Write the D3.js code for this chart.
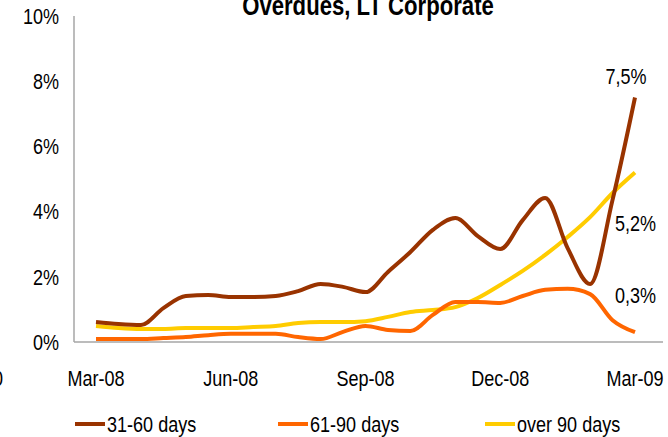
<!DOCTYPE html>
<html>
<head>
<meta charset="utf-8">
<script src="https://cdn.jsdelivr.net/npm/d3@7/dist/d3.min.js"></script>
<style>
    body { margin: 0; background: #fff; }
    svg text { font-family: "Liberation Sans", Arial, sans-serif; fill: #000; }
</style>
</head>
<body>
<svg id="chart" width="668" height="437"></svg>
<script>
// half-month periods, Mar-08 .. Mar-09
const periods = [
    "2008-03-01", "2008-03-16", "2008-04-01", "2008-04-16", "2008-05-01",
    "2008-05-16", "2008-06-01", "2008-06-16", "2008-07-01", "2008-07-16",
    "2008-08-01", "2008-08-16", "2008-09-01", "2008-09-16", "2008-10-01",
    "2008-10-16", "2008-11-01", "2008-11-16", "2008-12-01", "2008-12-16",
    "2009-01-01", "2009-01-16", "2009-02-01", "2009-02-16", "2009-03-01"
];

// values in %
const days31_60 = [0.61, 0.55, 0.52, 1.04, 1.41, 1.44, 1.38, 1.38, 1.41, 1.56,
    1.78, 1.69, 1.53, 2.15, 2.76, 3.44, 3.80, 3.25, 2.85, 3.74,
    4.42, 2.88, 1.78, 4.36, 7.5];
const days61_90 = [0.09, 0.09, 0.09, 0.12, 0.15, 0.21, 0.25, 0.25, 0.25, 0.15,
    0.09, 0.31, 0.49, 0.37, 0.34, 0.83, 1.23, 1.23, 1.20, 1.41,
    1.60, 1.63, 1.47, 0.67, 0.3];
const over90 = [0.49, 0.43, 0.40, 0.40, 0.43, 0.43, 0.43, 0.46, 0.49, 0.58,
    0.61, 0.61, 0.64, 0.77, 0.92, 0.98, 1.07, 1.35, 1.75, 2.18,
    2.67, 3.22, 3.83, 4.57, 5.2];

const seriesNames = ["31-60 days", "61-90 days", "over 90 days"];
const seriesColors = ["#993300", "#ff6600", "#ffcc00"];
const yTicks = [0, 2, 4, 6, 8, 10];
const xTickPeriods = ["2008-03-01", "2008-06-01", "2008-09-01", "2008-12-01", "2009-03-01"];
const xTickLabels = ["Mar-08", "Jun-08", "Sep-08", "Dec-08", "Mar-09"];
const endLabels = ["7,5%", "0,3%", "5,2%"];

const NARROW = 0.82; // no narrow font installed, squeeze Liberation Sans

const svg = d3.select("#chart");

const x = d3.scalePoint().domain(periods).range([96, 635]);
const y = d3.scaleLinear().domain([0, 10]).range([342, 16]);

// narrow text helper
function narrowText(sel, px, py) {
    return sel.attr("x", 0).attr("y", 0)
        .attr("transform", `translate(${px}, ${py}) scale(${NARROW}, 1)`);
}

// axes lines
svg.append("line")
    .attr("x1", 74).attr("x2", 74)
    .attr("y1", y(10)).attr("y2", y(0))
    .attr("stroke", "#a6a6a6").attr("stroke-width", 1.5);
svg.append("line")
    .attr("x1", 74).attr("x2", 663)
    .attr("y1", y(0)).attr("y2", y(0))
    .attr("stroke", "#a6a6a6").attr("stroke-width", 1.5);

// y tick labels
svg.selectAll("text.ytick")
    .data(yTicks)
    .join("text")
    .attr("class", "ytick")
    .attr("transform", d => `translate(59, ${y(d)}) scale(${NARROW}, 1)`)
    .attr("dy", "0.35em")
    .attr("text-anchor", "end")
    .style("font-size", "22px")
    .text(d => d + "%");

// x tick labels
svg.selectAll("text.xtick")
    .data(xTickPeriods)
    .join("text")
    .attr("class", "xtick")
    .attr("transform", d => `translate(${x(d)}, 386) scale(${NARROW}, 1)`)
    .attr("text-anchor", "middle")
    .style("font-size", "22px")
    .text((d, i) => xTickLabels[i]);

// clipped label at left edge
svg.append("text")
    .call(narrowText, 3, 386)
    .attr("text-anchor", "end")
    .style("font-size", "22px")
    .text("0");

// title
svg.append("text")
    .call(narrowText, 368, 15)
    .attr("text-anchor", "middle")
    .style("font-size", "27px")
    .style("font-weight", "bold")
    .text("Overdues, LT Corporate");

const series = [days31_60, days61_90, over90];

const line = d3.line()
    .x((d, i) => x(periods[i]))
    .y(d => y(d))
    .curve(d3.curveMonotoneX);

// draw yellow first, then orange, then brown on top
svg.selectAll("path.series")
    .data([2, 1, 0])
    .join("path")
    .attr("class", "series")
    .attr("fill", "none")
    .attr("stroke", k => seriesColors[k])
    .attr("stroke-width", 4)
    .attr("stroke-linejoin", "round")
    .attr("d", k => line(series[k]));

// end value labels
svg.append("text")
    .call(narrowText, 626, y(days31_60[24]) - 14)
    .attr("text-anchor", "middle")
    .style("font-size", "22px")
    .text(endLabels[0]);
svg.append("text")
    .call(narrowText, 615, 223)
    .attr("dy", "0.35em")
    .style("font-size", "22px")
    .text(endLabels[2]);
svg.append("text")
    .call(narrowText, 615, 295)
    .attr("dy", "0.35em")
    .style("font-size", "22px")
    .text(endLabels[1]);

// legend
const legendX = [75, 278, 485];
const legend = svg.selectAll("g.legend")
    .data(seriesNames)
    .join("g")
    .attr("class", "legend")
    .attr("transform", (d, i) => `translate(${legendX[i]}, 424)`);
legend.append("line")
    .attr("x1", 0).attr("x2", 30)
    .attr("stroke", (d, i) => seriesColors[i])
    .attr("stroke-width", 4);
legend.append("text")
    .attr("transform", `translate(32, 0) scale(${NARROW}, 1)`)
    .attr("dy", "0.35em")
    .style("font-size", "22px")
    .text(d => d);
</script>
</body>
</html>
